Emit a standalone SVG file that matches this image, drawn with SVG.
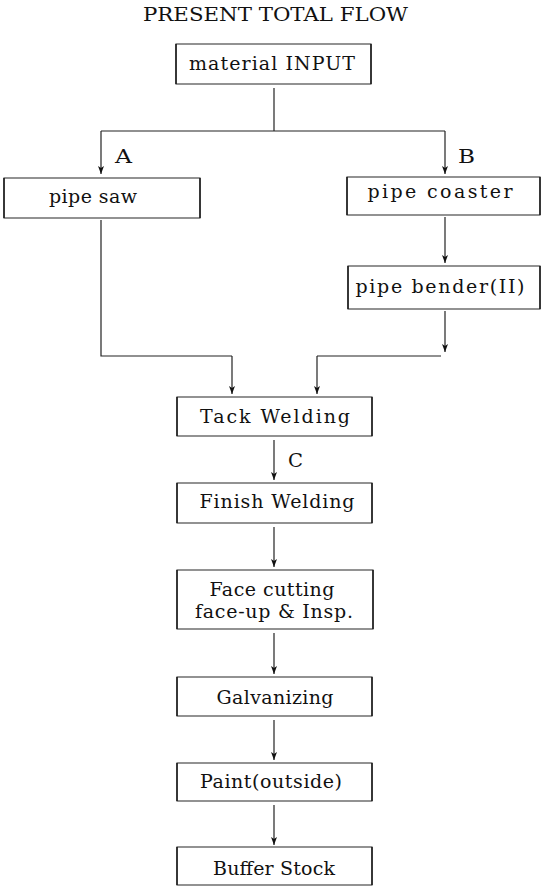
<svg xmlns="http://www.w3.org/2000/svg" width="543" height="888" viewBox="0 0 543 888">
<style>
.box{fill:#fff;stroke:#3a3a3a;stroke-width:1.1}
.side{stroke:#1a1a1a;stroke-width:1.5}
text{font-family:"DejaVu Serif","Liberation Serif",serif;font-size:19px;fill:#111}
.t{text-anchor:middle}
.ln{fill:none;stroke:#222;stroke-width:1.2}
.ar{fill:none;stroke:#222;stroke-width:1.2;marker-end:url(#ah)}
</style>
<defs>
<marker id="ah" markerWidth="8" markerHeight="6" refX="8" refY="3" orient="auto" markerUnits="userSpaceOnUse">
<path d="M0,0 L8,3 L0,6 L2,3 z" fill="#111"/>
</marker>
</defs>

<text class="t" x="275.5" y="21" textLength="265" lengthAdjust="spacingAndGlyphs">PRESENT TOTAL FLOW</text>

<g id="connectors">
<path class="ln" d="M274,88 V131"/>
<path class="ln" d="M101,131 H445"/>
<path class="ar" d="M101,131 V174"/>
<path class="ar" d="M445,131 V174"/>
<path class="ar" d="M445,217 V263"/>
<path class="ln" d="M101,220 V356 H232"/>
<path class="ar" d="M232,356 V394"/>
<path class="ar" d="M445,311 V352"/>
<path class="ln" d="M441,356 H317"/>
<path class="ar" d="M317,356 V394"/>
<path class="ar" d="M274,440 V480"/>
<path class="ar" d="M274,527 V567"/>
<path class="ar" d="M274,633 V674"/>
<path class="ar" d="M274,720 V760"/>
<path class="ar" d="M274,805 V845"/>
<text x="115" y="163" textLength="17" lengthAdjust="spacingAndGlyphs">A</text>
<text x="458" y="163" textLength="17" lengthAdjust="spacingAndGlyphs">B</text>
<text x="288" y="467" textLength="15" lengthAdjust="spacingAndGlyphs">C</text>
</g>

<g id="material-input">
<rect class="box" x="176" y="44" width="195" height="40"/>
<path class="side" d="M176,44 V84 M371,44 V84"/>
<text class="t" x="272" y="70" textLength="166" lengthAdjust="spacing">material INPUT</text>
</g>

<g id="pipe-saw">
<rect class="box" x="4" y="178" width="196" height="40"/>
<path class="side" d="M4,178 V218 M200,178 V218"/>
<text class="t" x="93" y="203" textLength="88" lengthAdjust="spacing">pipe saw</text>
</g>

<g id="pipe-coaster">
<rect class="box" x="347" y="177" width="193" height="38"/>
<path class="side" d="M347,177 V215 M540,177 V215"/>
<text class="t" x="440" y="198" textLength="145" lengthAdjust="spacing">pipe coaster</text>
</g>

<g id="pipe-bender">
<rect class="box" x="348" y="266" width="192" height="43"/>
<path class="side" d="M348,266 V309 M540,266 V309"/>
<text class="t" x="440" y="293" textLength="169" lengthAdjust="spacing">pipe bender(II)</text>
</g>

<g id="tack-welding">
<rect class="box" x="177" y="397" width="195" height="39"/>
<path class="side" d="M177,397 V436 M372,397 V436"/>
<text class="t" x="275" y="423" textLength="150" lengthAdjust="spacing">Tack Welding</text>
</g>

<g id="finish-welding">
<rect class="box" x="177" y="483" width="195" height="40"/>
<path class="side" d="M177,483 V523 M372,483 V523"/>
<text class="t" x="277" y="508" textLength="155" lengthAdjust="spacing">Finish Welding</text>
</g>

<g id="face-cutting">
<rect class="box" x="177" y="570" width="196" height="59"/>
<path class="side" d="M177,570 V629 M373,570 V629"/>
<text class="t" x="272" y="596" textLength="125" lengthAdjust="spacing">Face cutting</text>
<text class="t" x="274" y="618" textLength="158" lengthAdjust="spacing">face-up &amp; Insp.</text>
</g>

<g id="galvanizing">
<rect class="box" x="177" y="677" width="195" height="39"/>
<path class="side" d="M177,677 V716 M372,677 V716"/>
<text class="t" x="275" y="704" textLength="117" lengthAdjust="spacing">Galvanizing</text>
</g>

<g id="paint">
<rect class="box" x="177" y="763" width="195" height="38"/>
<path class="side" d="M177,763 V801 M372,763 V801"/>
<text class="t" x="271" y="788" textLength="142" lengthAdjust="spacing">Paint(outside)</text>
</g>

<g id="buffer-stock">
<rect class="box" x="177" y="847" width="195" height="38"/>
<path class="side" d="M177,847 V885 M372,847 V885"/>
<text class="t" x="274" y="875" textLength="122" lengthAdjust="spacing">Buffer Stock</text>
</g>
</svg>
